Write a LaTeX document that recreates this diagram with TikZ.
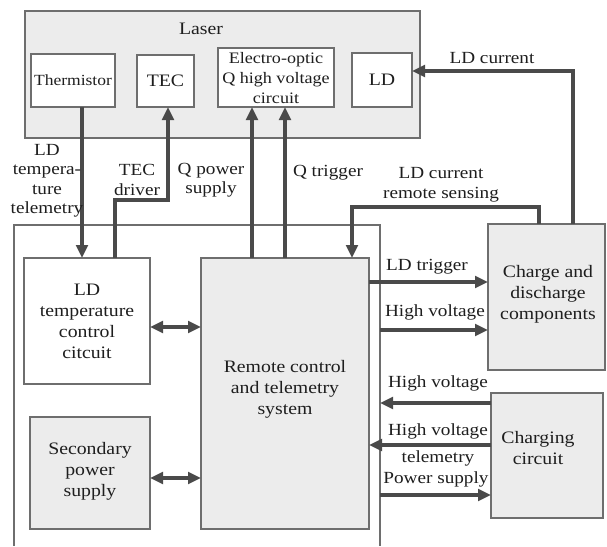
\documentclass[tikz,border=0pt]{standalone}
\usepackage{fontspec}
\setmainfont[FakeStretch=1.13]{Liberation Serif}
\usetikzlibrary{arrows.meta,calc}
\definecolor{boxline}{HTML}{6E6E6E}
\definecolor{arrline}{HTML}{4A4A4A}
\definecolor{grayfill}{HTML}{ECECEC}
\definecolor{txt}{HTML}{1E1E1E}
\tikzset{
  blk/.style={draw=boxline, line width=2pt, anchor=north west, inner sep=0pt, outer sep=0pt},
  wblk/.style={blk, fill=white},
  gblk/.style={blk, fill=grayfill},
  txtn/.style={align=center, text=txt, inner sep=0pt, font=\fontsize{17.5}{21}\selectfont},
  lbl/.style={align=center, text=txt, inner sep=0pt, font=\fontsize{17}{19.5}\selectfont},
  tip/.tip={Triangle[length=13pt,width=11.5pt]},
  arr/.style={draw=arrline, line width=3.2pt, -tip},
  darr/.style={draw=arrline, line width=3.2pt, tip-tip},
}
\begin{document}
\begin{tikzpicture}[x=1pt,y=-1pt]
\useasboundingbox[fill=white] (0,0) rectangle (607,546);

% Laser group
\node[gblk, minimum width=395pt, minimum height=127pt] (laser) at (25,11) {};
\node[txtn] (laserlbl) at (201,29) {Laser};
\node[wblk, minimum width=84pt, minimum height=53pt] (therm) at (31,54) {};
\node[txtn, font=\fontsize{15.5}{18}\selectfont] at (therm.center) {Thermistor};
\node[wblk, minimum width=57pt, minimum height=52pt] (tec) at (137,55) {};
\node[txtn] at (tec.center) {TEC};
\node[wblk, minimum width=116pt, minimum height=59pt] (eo) at (218,48) {};
\node[txtn, font=\fontsize{16}{20}\selectfont] at (276,78) {Electro-optic\\Q high voltage\\circuit};
\node[wblk, minimum width=60pt, minimum height=54pt] (ld) at (352,53) {};
\node[txtn] at (ld.center) {LD};

% subsystem outline (open at bottom)
\draw[boxline, line width=2pt] (14,546) -- (14,225) -- (380,225) -- (380,546);

% inner blocks
\node[wblk, minimum width=126pt, minimum height=126pt] (ltc) at (24,258) {};
\node[txtn] at (87,321) {LD\\temperature\\control\\citcuit};
\node[gblk, minimum width=168pt, minimum height=271pt] (rc) at (201,258) {};
\node[txtn] at (285,389) {Remote control\\and telemetry\\system};
\node[gblk, minimum width=120pt, minimum height=112pt] (sps) at (30,417) {};
\node[txtn] at (90,471) {Secondary\\power\\supply};

% right blocks
\node[gblk, minimum width=117pt, minimum height=146pt] (cd) at (488,224) {};
\node[txtn] at (548,294) {Charge and\\discharge\\components};
\node[gblk, minimum width=112pt, minimum height=125pt] (cc) at (491,393) {};
\node[txtn] at (538,448) {Charging\\circuit};

% helper coordinates
\coordinate (xT) at (82,0);
\coordinate (xD) at (115,0);
\coordinate (xE) at (168,200);
\coordinate (xQP) at (252,0);
\coordinate (xQT) at (285,0);
\coordinate (xS) at (352,207);
\coordinate (xSr) at (539,207);
\coordinate (xL) at (573,71);
\coordinate (yLT) at (0,282);
\coordinate (yHV1) at (0,330);
\coordinate (yHV2) at (0,403);
\coordinate (yHVT) at (0,445);
\coordinate (yPS) at (0,495);
\coordinate (bnd) at (380,0);
\coordinate (y1) at (0,327);
\coordinate (y2) at (0,478);

% connectors
\draw[arr] (therm.south -| xT) -- (ltc.north -| xT);
\draw[arr] (ltc.north -| xD) -- (xD |- xE) -- (xE) -- (tec.south -| xE);
\draw[arr] (rc.north -| xQP) -- (eo.south -| xQP);
\draw[arr] (rc.north -| xQT) -- (eo.south -| xQT);
\draw[arr] (cd.north -| xL) -- (xL) -- (ld.east |- xL);
\draw[arr] (cd.north -| xSr) -- (xSr) -- (xS) -- (rc.north -| xS);
\draw[arr] (rc.east |- yLT) -- (cd.west |- yLT);
\draw[arr] (bnd |- yHV1) -- (cd.west |- yHV1);
\draw[arr] (cc.west |- yHV2) -- (bnd |- yHV2);
\draw[arr] (cc.west |- yHVT) -- (rc.east |- yHVT);
\draw[arr] (bnd |- yPS) -- (cc.west |- yPS);
\draw[darr] (ltc.east |- y1) -- (rc.west |- y1);
\draw[darr] (sps.east |- y2) -- (rc.west |- y2);

% labels
\node[lbl] at (47,181) {LD\\tempera-\\ture\\telemetry};
\node[lbl] at (137,180) {TEC\\driver};
\node[lbl] at (211,180) {Q power\\supply};
\node[lbl] at (328,173) {Q trigger};
\node[lbl] at (441,185) {LD current\\remote sensing};
\node[lbl] at (492,58) {LD current};
\node[lbl] at (427,267) {LD trigger};
\node[lbl] at (435,312) {High voltage};
\node[lbl] at (438,383) {High voltage};
\node[lbl] at (438,431) {High voltage};
\node[lbl] at (438,458) {telemetry};
\node[lbl] at (436,479) {Power supply};
\end{tikzpicture}
\end{document}
